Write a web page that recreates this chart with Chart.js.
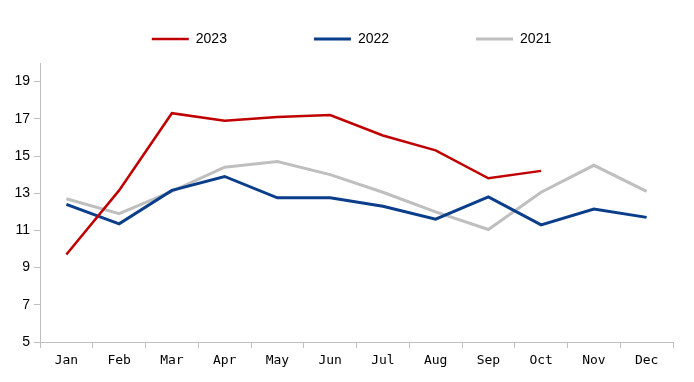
<!DOCTYPE html>
<html>
<head>
<meta charset="utf-8">
<script src="https://cdn.jsdelivr.net/npm/chart.js@4/dist/chart.umd.min.js"></script>
<style>
html,body{margin:0;padding:0;background:#fff;}
#wrap{width:694px;height:382px;position:relative;}
</style>
</head>
<body>
<div id="wrap"><canvas id="c" width="694" height="382"></canvas></div>
<script>
const categories = ["Jan","Feb","Mar","Apr","May","Jun","Jul","Aug","Sep","Oct","Nov","Dec"];
const series2023 = [9.7, 13.15, 17.3, 16.9, 17.1, 17.2, 16.1, 15.3, 13.8, 14.2, null, null];
const series2022 = [12.4, 11.35, 13.15, 13.9, 12.75, 12.75, 12.3, 11.6, 12.8, 11.3, 12.15, 11.7];
const series2021 = [12.7, 11.9, 13.1, 14.4, 14.7, 14.0, 13.05, 12.0, 11.05, 13.05, 14.5, 13.1];
const yTicks = [5, 7, 9, 11, 13, 15, 17, 19];
const seriesNames = ["2023", "2022", "2021"];

const axisColor = "#BFBFBF";
const LEGEND_GAP = 87;      // horizontal gap between legend items
const LEGEND_HEIGHT = 63;   // space reserved above plot area
const LEGEND_ITEM_TOP = 32; // top of legend row
const LEGEND_SHIFT = 15;    // horizontal offset of legend row

const legendSpacing = {
  id: "legendSpacing",
  afterInit(chart) {
    const lg = chart.legend;
    if (!lg) return;
    const origFit = lg.fit.bind(lg);
    lg.fit = function () { origFit(); this.height = LEGEND_HEIGHT; };
    const origDraw = lg.draw.bind(lg);
    lg.draw = function (...a) {
      const t = this.top, l = this.left, r = this.right;
      this.top = LEGEND_ITEM_TOP - LEGEND_GAP;
      this.left = l + LEGEND_SHIFT;
      this.right = r + LEGEND_SHIFT;
      origDraw(...a);
      this.top = t; this.left = l; this.right = r;
    };
  }
};

new Chart(document.getElementById("c"), {
  type: "line",
  data: {
    labels: categories,
    datasets: [
      {label: seriesNames[0], data: series2023, borderColor: "#C00000", backgroundColor: "#C00000", borderWidth: 2.5, pointRadius: 0, tension: 0, spanGaps: false},
      {label: seriesNames[1], data: series2022, borderColor: "#0A3D8A", backgroundColor: "#0A3D8A", borderWidth: 3, pointRadius: 0, tension: 0},
      {label: seriesNames[2], data: series2021, borderColor: "#BFBFBF", backgroundColor: "#BFBFBF", borderWidth: 3, pointRadius: 0, tension: 0}
    ]
  },
  plugins: [legendSpacing],
  options: {
    responsive: false,
    animation: false,
    devicePixelRatio: 1,
    layout: {padding: {left: 0, right: 21, top: 0, bottom: 0}},
    plugins: {
      legend: {
        display: true,
        position: "top",
        labels: {
          usePointStyle: true,
          pointStyle: "line",
          pointStyleWidth: 37,
          boxHeight: 14,
          padding: LEGEND_GAP,
          color: "#000",
          font: {family: "'Liberation Sans', Arial, sans-serif", size: 14}
        }
      },
      tooltip: {enabled: false}
    },
    scales: {
      x: {
        offset: true,
        grid: {offset: true, drawOnChartArea: false, drawTicks: true, tickLength: 6, color: axisColor},
        border: {display: true, color: axisColor, width: 1},
        ticks: {color: "#000", padding: 5, maxRotation: 0, font: {family: "'DejaVu Sans Mono', monospace", size: 13}},
        afterFit: (s) => { s.height = 40; }
      },
      y: {
        min: 5,
        max: 20,
        afterBuildTicks: (s) => { s.ticks = yTicks.map(v => ({value: v})); },
        grid: {drawOnChartArea: false, drawTicks: true, tickLength: 6, color: axisColor},
        border: {display: true, color: axisColor, width: 1},
        ticks: {color: "#000", padding: 4, font: {family: "'Liberation Sans', Arial, sans-serif", size: 14}},
        afterFit: (s) => { s.width = 40; }
      }
    }
  }
});
</script>
</body>
</html>
